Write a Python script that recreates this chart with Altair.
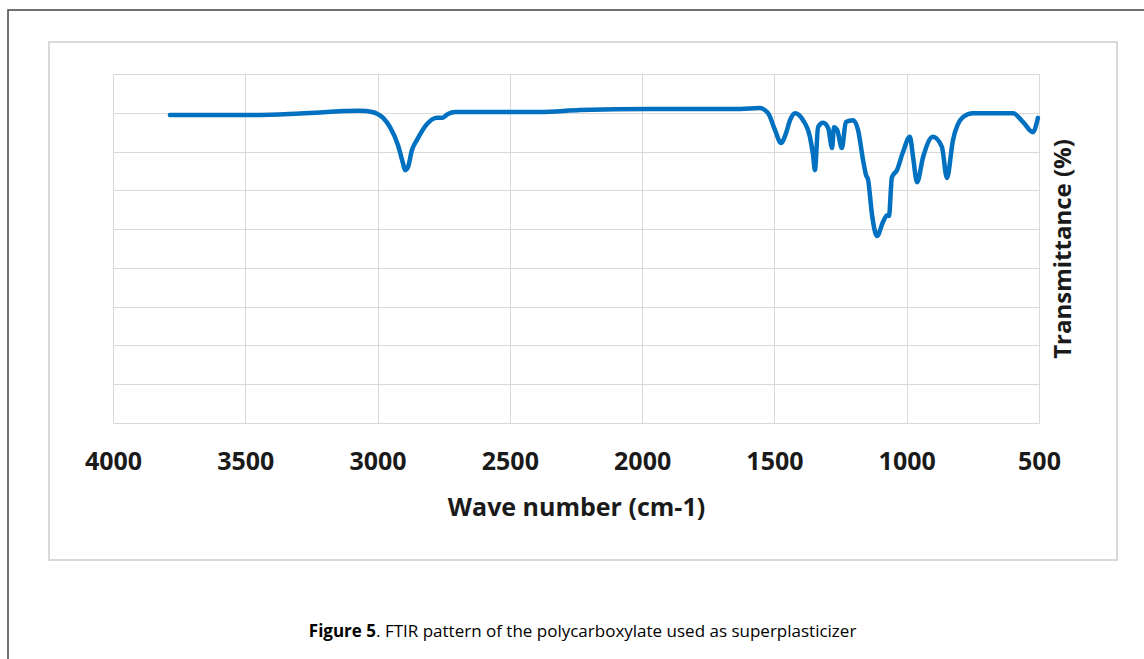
import altair as alt
import pandas as pd

# FTIR spectrum of the polycarboxylate superplasticizer
wavenumber = [3785, 3501, 3293, 3066, 3021, 3000, 2979, 2953, 2923, 2904, 2896, 2885,
              2870, 2851, 2813, 2775, 2756, 2734, 2707, 2386, 2235, 1970, 1630, 1555,
              1524, 1498, 1475, 1456, 1441, 1422, 1392, 1366, 1354, 1347, 1335, 1316,
              1297, 1282, 1275, 1263, 1245, 1230, 1203, 1184, 1165, 1154, 1146, 1131,
              1112, 1090, 1074, 1067, 1056, 1037, 1014, 988, 976, 961, 938, 901, 867,
              848, 825, 787, 750, 598, 560, 523, 504]
transmittance = [89.4, 89.4, 89.8, 90.5, 90.2, 89.7, 88.7, 86.3, 81.7, 77.0, 75.2, 76.0,
                 80.4, 83.0, 87.1, 88.7, 88.7, 89.7, 90.2, 90.2, 90.7, 91.0, 91.0, 91.2,
                 89.9, 85.6, 82.2, 84.8, 88.1, 89.9, 88.1, 83.8, 79.1, 75.2, 86.3, 87.4,
                 86.1, 80.9, 86.3, 85.6, 80.9, 87.6, 88.1, 85.6, 77.8, 74.0, 72.7, 63.6,
                 58.2, 61.8, 63.6, 63.4, 73.4, 75.2, 79.9, 83.8, 78.6, 72.1, 78.6, 83.8,
                 81.2, 73.2, 83.0, 88.9, 89.9, 89.9, 87.6, 85.0, 88.7]

x_ticks = [4000, 3500, 3000, 2500, 2000, 1500, 1000, 500]
y_ticks = [10, 20, 30, 40, 50, 60, 70, 80, 90, 100]

caption_bold = "Figure 5"
caption_rest = ". FTIR pattern of the polycarboxylate used as superplasticizer"

W, H = 926, 349
FONT = "Open Sans"

spectrum = pd.DataFrame({"wn": wavenumber, "t": transmittance})
one = pd.DataFrame({"k": [0]})

line = alt.Chart(spectrum).mark_line(
    color="#0070C0", strokeWidth=4.5, interpolate="monotone", strokeCap="round", strokeJoin="round"
).encode(
    x=alt.X("wn:Q",
            scale=alt.Scale(domain=[500, 4000], reverse=True, nice=False, zero=False),
            axis=alt.Axis(values=x_ticks, grid=True, gridColor="#d9d9d9", gridWidth=1,
                          domain=False, ticks=False, format="d", labelFlush=False,
                          labelOverlap=False,
                          labelFont=FONT, labelFontSize=25, labelFontWeight="bold",
                          labelColor="#1a1a1a", labelPadding=38, labelBaseline="middle",
                          title="Wave number (cm-1)", titleFont=FONT, titleFontSize=25,
                          titleFontWeight="bold", titleColor="#1a1a1a",
                          titleX=W / 2, titleY=84, titleBaseline="middle")),
    y=alt.Y("t:Q",
            scale=alt.Scale(domain=[10, 100], nice=False, zero=False),
            axis=alt.Axis(orient="right", values=y_ticks, grid=True, gridColor="#d9d9d9",
                          gridWidth=1, domain=False, ticks=False, labels=False,
                          title="Transmittance (%)", titleFont=FONT, titleFontSize=24,
                          titleFontWeight="bold", titleColor="#1a1a1a", titleAngle=270,
                          titleX=24, titleY=H / 2, titleBaseline="middle", titleAlign="center")),
)

# inner chart box and outer figure frame
inner_box = alt.Chart(one).mark_rect(fill=None, stroke="#d9d9d9", strokeWidth=2).encode(
    x=alt.value(-64), x2=alt.value(1004), y=alt.value(-32), y2=alt.value(486)
)
outer_frame = alt.Chart(one).mark_rect(fill=None, stroke="#444444", strokeWidth=1.5).encode(
    x=alt.value(-105), x2=alt.value(1060), y=alt.value(-64), y2=alt.value(620)
)

cap_x = 263
cap_y = 558
cap_b = alt.Chart(one).mark_text(
    text=caption_bold, font=FONT, fontSize=17, fontWeight="bold", align="right",
    baseline="middle", color="#000000"
).encode(x=alt.value(cap_x), y=alt.value(cap_y))
cap_r = alt.Chart(one).mark_text(
    text=caption_rest, font=FONT, fontSize=17, align="left",
    baseline="middle", color="#000000"
).encode(x=alt.value(cap_x), y=alt.value(cap_y))

chart = alt.layer(outer_frame, inner_box, line, cap_b, cap_r).properties(
    width=W, height=H,
    autosize=alt.AutoSizeParams(type="none"),
    padding={"left": 113, "top": 74, "right": 105, "bottom": 236},
    background="white",
).configure_view(stroke=None)

chart.save("out.html", embed_options={"renderer": "svg", "actions": False})
